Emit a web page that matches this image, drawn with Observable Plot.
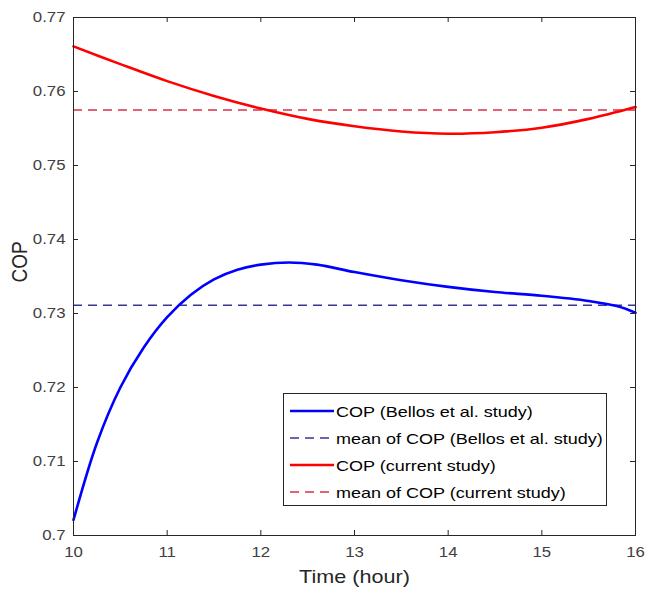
<!DOCTYPE html>
<html>
<head>
<meta charset="utf-8">
<script src="https://cdn.jsdelivr.net/npm/d3@7"></script>
<script src="https://cdn.jsdelivr.net/npm/@observablehq/plot@0.6"></script>
<style>
  body { margin: 0; background: #fff; }
  #wrap { position: relative; width: 645px; height: 590px; }
  #legend {
    position: absolute; left: 283px; top: 393px; width: 324px; height: 113px;
    box-sizing: border-box; border: 1px solid #262626; background: #fff;
    font-family: "Liberation Sans", Arial, sans-serif; font-size: 15px; color: #000;
  }
  .row { position: absolute; left: 5px; height: 20px; display: flex; align-items: center; white-space: nowrap; }
  .row svg { display: block; }
  .row span { display: inline-block; transform: scaleX(1.2); transform-origin: left center; margin-left: 1px; }
</style>
</head>
<body>
<div id="wrap"></div>
<script>
// ---- data ----
const timeBellos = [10, 10.25, 10.5, 10.75, 11, 11.25, 11.5, 11.75, 12, 12.3, 12.6, 13, 13.5, 14, 14.5, 15, 15.5, 15.8, 16];
const copBellos  = [0.7021, 0.7125, 0.7200, 0.7254, 0.7295, 0.7325, 0.7346, 0.7359, 0.7366, 0.7369, 0.7366, 0.7356, 0.7345, 0.7336, 0.7329, 0.7324, 0.7317, 0.7310, 0.7301];
const timeCurrent = [10, 10.5, 11, 11.5, 12, 12.5, 13, 13.5, 14, 14.5, 15, 15.5, 16];
const copCurrent  = [0.7661, 0.7637, 0.7614, 0.7594, 0.7577, 0.7563, 0.7553, 0.7546, 0.7543, 0.7545, 0.7551, 0.7563, 0.7579];
const meanBellos = [0.7311];
const meanCurrent = [0.7575];
const xTicks = [10, 11, 12, 13, 14, 15, 16];
const xTickLabels = ["10", "11", "12", "13", "14", "15", "16"];
const yTicks = [0.70, 0.71, 0.72, 0.73, 0.74, 0.75, 0.76, 0.77];
const yTickLabels = ["0.7", "0.71", "0.72", "0.73", "0.74", "0.75", "0.76", "0.77"];
const xLabel = ["Time (hour)"];
const yLabel = ["COP"];
const legendLabels = [
  "COP (Bellos et al. study)",
  "mean of COP (Bellos et al. study)",
  "COP (current study)",
  "mean of COP (current study)"
];

// ---- styling ----
const W = 645, H = 590, mL = 73, mR = 10, mT = 17, mB = 55;
const plotW = W - mL - mR, plotH = H - mT - mB;
const axisColor = "#262626";
const blue = "#0000ff", red = "#ff0000";
const blueDash = "#35359a", redDash = "#dc2f4a";
const dash = "9,6";
const stretch = 1.2;

const bellos = timeBellos.map((t, i) => ({t, cop: copBellos[i]}));
const current = timeCurrent.map((t, i) => ({t, cop: copCurrent[i]}));
const xFmt = new Map(xTicks.map((v, i) => [v, xTickLabels[i]]));
const yFmt = new Map(yTicks.map((v, i) => [v, yTickLabels[i]]));

const plot = Plot.plot({
  width: W, height: H,
  marginLeft: mL, marginRight: mR, marginTop: mT, marginBottom: mB,
  style: { fontFamily: "'Liberation Sans', Arial, sans-serif", background: "#fff", overflow: "visible" },
  x: { domain: [10, 16], label: null },
  y: { domain: [0.70, 0.77], label: null },
  marks: [
    Plot.ruleY(meanBellos, { y: d => d, stroke: blueDash, strokeWidth: 1.5, strokeDasharray: dash }),
    Plot.ruleY(meanCurrent, { y: d => d, stroke: redDash, strokeWidth: 1.5, strokeDasharray: dash }),
    Plot.line(bellos, { x: "t", y: "cop", stroke: blue, strokeWidth: 2.6, curve: "catmull-rom" }),
    Plot.line(current, { x: "t", y: "cop", stroke: red, strokeWidth: 2.6, curve: "catmull-rom" }),
    // inward ticks on all four sides
    Plot.tickX(xTicks, { x: d => d, insetTop: plotH - 5, stroke: axisColor }),
    Plot.tickX(xTicks, { x: d => d, insetBottom: plotH - 5, stroke: axisColor }),
    Plot.tickY(yTicks, { y: d => d, insetRight: plotW - 5, stroke: axisColor }),
    Plot.tickY(yTicks, { y: d => d, insetLeft: plotW - 5, stroke: axisColor }),
    Plot.axisX(xTicks, { anchor: "bottom", tickSize: 0, tickPadding: 12, fontSize: 14, fill: "#404040", tickFormat: d => xFmt.get(d), label: null }),
    Plot.axisY(yTicks, { anchor: "left", tickSize: 0, tickPadding: 8, fontSize: 14, fill: "#404040", tickFormat: d => yFmt.get(d), label: null }),
    Plot.text(xLabel, { text: d => d, frameAnchor: "bottom", dy: 42, fontSize: 18, fill: axisColor, lineAnchor: "middle" }),
    Plot.text(yLabel, { text: d => d, frameAnchor: "left", dx: -54, dy: 6, rotate: -90, fontSize: 19, fill: axisColor, lineAnchor: "middle" }),
    Plot.frame({ stroke: axisColor, strokeWidth: 1 })
  ]
});

// the reference is horizontally stretched; widen glyphs to match
plot.querySelectorAll("text").forEach(t => {
  const tr = t.getAttribute("transform") || "";
  if (/rotate\(/.test(tr)) t.setAttribute("transform", tr + ` scale(1,${stretch})`);
  else t.setAttribute("transform", tr + ` scale(${stretch},1)`);
});

const wrap = document.getElementById("wrap");
wrap.appendChild(plot);

// legend
const legend = document.createElement("div");
legend.id = "legend";
const styles = [
  { color: blue, width: 2.6, dash: null },
  { color: blueDash, width: 1.5, dash: dash },
  { color: red, width: 2.6, dash: null },
  { color: redDash, width: 1.5, dash: dash }
];
const rowTops = [7, 34, 61, 88];
legendLabels.forEach((label, i) => {
  const row = document.createElement("div");
  row.className = "row";
  row.style.top = rowTops[i] + "px";
  const s = styles[i];
  row.innerHTML = `<svg width="46" height="20"><line x1="1" x2="45" y1="10" y2="10" stroke="${s.color}" stroke-width="${s.width}" ${s.dash ? `stroke-dasharray="${s.dash}"` : ""}/></svg><span>${label}</span>`;
  legend.appendChild(row);
});
wrap.appendChild(legend);
</script>
</body>
</html>
